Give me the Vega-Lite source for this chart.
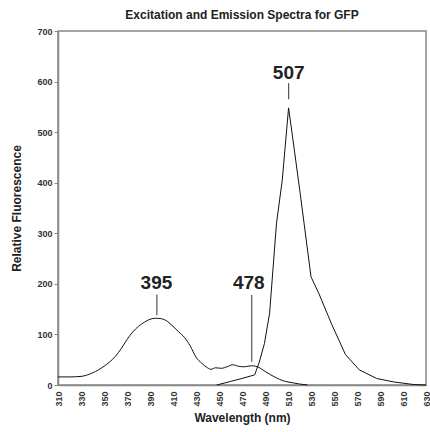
{
  "$schema": "https://vega.github.io/schema/vega-lite/v6.json",
  "width": 368,
  "height": 354,
  "autosize": {"type": "none"},
  "padding": {"left": 58, "top": 31, "right": 4, "bottom": 47},
  "background": "white",
  "title": {"text": "Excitation and Emission Spectra for GFP", "font": "Liberation Sans", "fontSize": 12, "fontWeight": "bold", "color": "#222", "offset": 5, "anchor": "middle"},
  "config": {
    "view": {"stroke": "#888", "strokeWidth": 1.5},
    "font": "Liberation Sans",
    "axis": {"grid": false, "labelFont": "Liberation Sans", "labelFontSize": 9, "labelFontWeight": "bold", "labelColor": "#333", "domainColor": "#888", "domainWidth": 1.5, "titleFont": "Liberation Sans", "titleFontSize": 12, "titleFontWeight": "bold", "titleColor": "#222"},
    "axisX": {"labelAngle": 270, "labelAlign": "right", "labelBaseline": "middle", "labelPadding": 6, "ticks": false, "labelFlush": false, "labelOverlap": false, "labelBound": false, "titlePadding": 6},
    "axisY": {"tickSize": 4, "tickColor": "#888", "labelPadding": 2, "labelOverlap": false, "titlePadding": 13}
  },
  "datasets": {
    "spectra": [
      {"series": "Excitation", "wavelength": 310, "value": 16},
      {"series": "Excitation", "wavelength": 320, "value": 16},
      {"series": "Excitation", "wavelength": 330, "value": 17},
      {"series": "Excitation", "wavelength": 340, "value": 24},
      {"series": "Excitation", "wavelength": 350, "value": 37},
      {"series": "Excitation", "wavelength": 360, "value": 57},
      {"series": "Excitation", "wavelength": 365, "value": 72},
      {"series": "Excitation", "wavelength": 370, "value": 90},
      {"series": "Excitation", "wavelength": 375, "value": 105},
      {"series": "Excitation", "wavelength": 380, "value": 116},
      {"series": "Excitation", "wavelength": 385, "value": 124},
      {"series": "Excitation", "wavelength": 390, "value": 130},
      {"series": "Excitation", "wavelength": 395, "value": 132},
      {"series": "Excitation", "wavelength": 400, "value": 131},
      {"series": "Excitation", "wavelength": 405, "value": 126},
      {"series": "Excitation", "wavelength": 410, "value": 116},
      {"series": "Excitation", "wavelength": 415, "value": 105},
      {"series": "Excitation", "wavelength": 420, "value": 94},
      {"series": "Excitation", "wavelength": 425, "value": 77},
      {"series": "Excitation", "wavelength": 430, "value": 55},
      {"series": "Excitation", "wavelength": 435, "value": 43},
      {"series": "Excitation", "wavelength": 440, "value": 34},
      {"series": "Excitation", "wavelength": 443, "value": 31},
      {"series": "Excitation", "wavelength": 447, "value": 34},
      {"series": "Excitation", "wavelength": 452, "value": 33},
      {"series": "Excitation", "wavelength": 457, "value": 36},
      {"series": "Excitation", "wavelength": 462, "value": 40},
      {"series": "Excitation", "wavelength": 467, "value": 37},
      {"series": "Excitation", "wavelength": 472, "value": 36},
      {"series": "Excitation", "wavelength": 478, "value": 38},
      {"series": "Excitation", "wavelength": 482, "value": 37},
      {"series": "Excitation", "wavelength": 486, "value": 33},
      {"series": "Excitation", "wavelength": 490, "value": 27},
      {"series": "Excitation", "wavelength": 495, "value": 20},
      {"series": "Excitation", "wavelength": 500, "value": 14},
      {"series": "Excitation", "wavelength": 505, "value": 9},
      {"series": "Excitation", "wavelength": 510, "value": 6},
      {"series": "Excitation", "wavelength": 515, "value": 4},
      {"series": "Excitation", "wavelength": 520, "value": 2},
      {"series": "Excitation", "wavelength": 527, "value": 0},
      {"series": "Emission", "wavelength": 448, "value": 0},
      {"series": "Emission", "wavelength": 460, "value": 7},
      {"series": "Emission", "wavelength": 470, "value": 13},
      {"series": "Emission", "wavelength": 481, "value": 20},
      {"series": "Emission", "wavelength": 485, "value": 45},
      {"series": "Emission", "wavelength": 489.5, "value": 82},
      {"series": "Emission", "wavelength": 494, "value": 142},
      {"series": "Emission", "wavelength": 500, "value": 320},
      {"series": "Emission", "wavelength": 505, "value": 405},
      {"series": "Emission", "wavelength": 510.5, "value": 548},
      {"series": "Emission", "wavelength": 515.5, "value": 465},
      {"series": "Emission", "wavelength": 521, "value": 372},
      {"series": "Emission", "wavelength": 530, "value": 214},
      {"series": "Emission", "wavelength": 537, "value": 180},
      {"series": "Emission", "wavelength": 548, "value": 120},
      {"series": "Emission", "wavelength": 560, "value": 60},
      {"series": "Emission", "wavelength": 572, "value": 30},
      {"series": "Emission", "wavelength": 587, "value": 13},
      {"series": "Emission", "wavelength": 602, "value": 6},
      {"series": "Emission", "wavelength": 619, "value": 1},
      {"series": "Emission", "wavelength": 630, "value": 0}
    ],
    "peaks": [
      {"label": "395", "textX": 395.6, "textY": 201, "lineX": 396, "y1": 179, "y2": 138},
      {"label": "478", "textX": 475.9, "textY": 201, "lineX": 478.5, "y1": 178, "y2": 46},
      {"label": "507", "textX": 510.6, "textY": 616, "lineX": 510.6, "y1": 597, "y2": 565}
    ]
  },
  "layer": [
    {
      "data": {"name": "spectra"},
      "transform": [{"filter": "datum.series == 'Excitation'"}],
      "mark": {"type": "line", "color": "#111", "strokeWidth": 1, "interpolate": "monotone"},
      "encoding": {
        "x": {"field": "wavelength", "type": "quantitative", "title": "Wavelength (nm)", "scale": {"domain": [310, 630], "nice": false, "zero": false}, "axis": {"values": [310,330,350,370,390,410,430,450,470,490,510,530,550,570,590,610,630]}},
        "y": {"field": "value", "type": "quantitative", "title": "Relative Fluorescence", "scale": {"domain": [0, 700], "nice": false}, "axis": {"values": [0,100,200,300,400,500,600,700]}}
      }
    },
    {
      "data": {"name": "spectra"},
      "transform": [{"filter": "datum.series == 'Emission'"}],
      "mark": {"type": "line", "color": "#111", "strokeWidth": 1, "interpolate": "linear"},
      "encoding": {
        "x": {"field": "wavelength", "type": "quantitative", "title": "Wavelength (nm)", "axis": {"values": [310,330,350,370,390,410,430,450,470,490,510,530,550,570,590,610,630]}},
        "y": {"field": "value", "type": "quantitative", "title": "Relative Fluorescence", "axis": {"values": [0,100,200,300,400,500,600,700]}}
      }
    },
    {
      "data": {"name": "peaks"},
      "mark": {"type": "rule", "color": "#333", "strokeWidth": 1},
      "encoding": {
        "x": {"field": "lineX", "type": "quantitative", "title": "Wavelength (nm)", "axis": {"values": [310,330,350,370,390,410,430,450,470,490,510,530,550,570,590,610,630]}},
        "y": {"field": "y1", "type": "quantitative", "title": "Relative Fluorescence", "axis": {"values": [0,100,200,300,400,500,600,700]}},
        "y2": {"field": "y2"}
      }
    },
    {
      "data": {"name": "peaks"},
      "mark": {"type": "text", "font": "Liberation Sans", "fontSize": 19, "fontWeight": "bold", "color": "#222", "baseline": "middle", "align": "center"},
      "encoding": {
        "x": {"field": "textX", "type": "quantitative", "title": "Wavelength (nm)", "axis": {"values": [310,330,350,370,390,410,430,450,470,490,510,530,550,570,590,610,630]}},
        "y": {"field": "textY", "type": "quantitative", "title": "Relative Fluorescence", "axis": {"values": [0,100,200,300,400,500,600,700]}},
        "text": {"field": "label"}
      }
    }
  ]
}
